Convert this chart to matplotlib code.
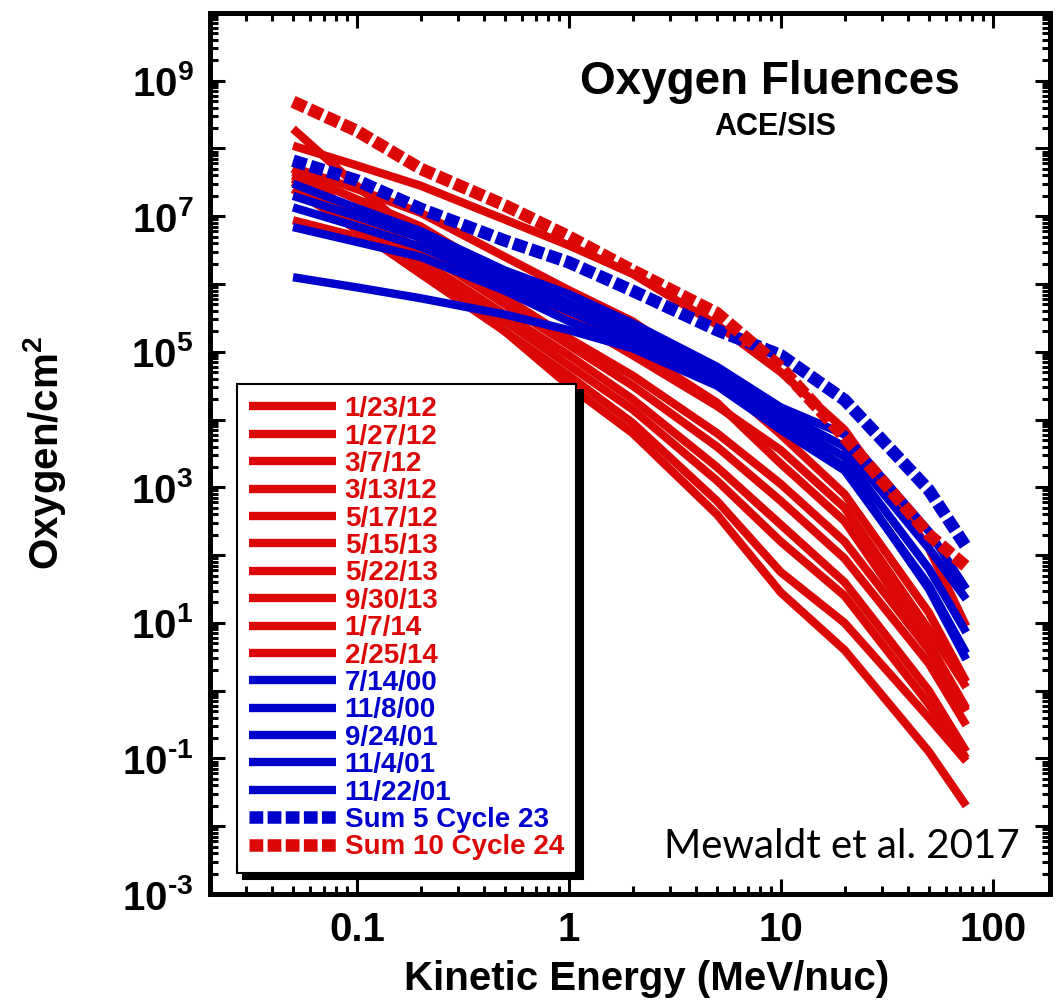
import numpy as np
import matplotlib
matplotlib.use("Agg")
import matplotlib.pyplot as plt
from matplotlib.ticker import LogLocator, FuncFormatter, NullFormatter

plt.rcParams['font.family'] = 'Liberation Sans'
plt.rcParams['font.weight'] = 'bold'
plt.rcParams['mathtext.fontset'] = 'custom'
plt.rcParams['mathtext.rm'] = 'Liberation Sans:bold'
plt.rcParams['mathtext.bf'] = 'Liberation Sans:bold'
plt.rcParams['mathtext.it'] = 'Liberation Sans:bold'
plt.rcParams['mathtext.default'] = 'rm'

energy = [0.05, 0.1, 0.2, 0.5, 1, 2, 5, 10, 20, 50, 75]

# log10 of oxygen fluence (per cm^2), cycle 24 events (red)
cycle24_labels = ["1/23/12", "1/27/12", "3/7/12", "3/13/12", "5/17/12",
                  "5/15/13", "5/22/13", "9/30/13", "1/7/14", "2/25/14"]
cycle24_log = [
    [8.04, 7.75, 7.45, 6.95, 6.57, 6.15, 5.40, 4.70, 3.85, 2.10, 0.95],
    [8.29, 7.45, 6.65, 5.80, 5.20, 4.65, 3.80, 3.05, 2.20, 0.60, -0.30],
    [7.72, 7.40, 7.05, 6.40, 5.91, 5.45, 4.60, 3.78, 2.90, 1.15, 0.13],
    [7.65, 7.25, 6.85, 6.10, 5.50, 4.95, 4.20, 3.55, 2.70, 0.90, 0.05],
    [7.60, 7.05, 6.50, 5.70, 5.10, 4.50, 3.60, 2.80, 1.95, 0.40, -0.51],
    [7.55, 6.95, 6.35, 5.55, 4.95, 4.30, 3.30, 2.45, 1.60, 0.00, -0.90],
    [7.50, 6.90, 6.25, 5.45, 4.80, 4.15, 3.10, 2.20, 1.40, -0.20, -1.00],
    [7.40, 6.80, 6.15, 5.30, 4.65, 3.95, 2.80, 1.75, 1.00, -0.40, -1.04],
    [7.70, 7.00, 6.30, 5.30, 4.50, 3.80, 2.60, 1.45, 0.60, -0.90, -1.70],
    [6.94, 6.70, 6.45, 5.95, 5.50, 5.05, 4.25, 3.35, 2.50, 0.70, -0.26],
]

# cycle 23 events (blue)
cycle23_labels = ["7/14/00", "11/8/00", "9/24/01", "11/4/01", "11/22/01"]
cycle23_log = [
    [7.48, 7.12, 6.78, 6.20, 5.85, 5.42, 4.78, 4.18, 3.78, 2.35, 1.50],
    [7.30, 7.00, 6.68, 6.10, 5.72, 5.30, 4.70, 4.10, 3.60, 2.10, 1.35],
    [7.13, 6.85, 6.55, 6.00, 5.60, 5.20, 4.62, 4.00, 3.45, 1.80, 0.86],
    [6.84, 6.62, 6.40, 5.90, 5.45, 5.10, 4.55, 3.90, 3.30, 1.50, 0.46],
    [6.10, 5.95, 5.79, 5.55, 5.32, 5.05, 4.50, 3.85, 3.25, 1.55, 0.55],
]

# sums
sum23_log = [7.82, 7.53, 7.11, 6.64, 6.32, 5.90, 5.32, 4.95, 4.29, 2.96, 2.12]
sum24_log = [8.69, 8.26, 7.70, 7.16, 6.70, 6.20, 5.57, 4.77, 3.74, 2.30, 1.83]

red = '#dc0808'
blue = '#0000cc'

fig = plt.figure(figsize=(10.63, 10.07), dpi=100)
ax = fig.add_axes([0.1976, 0.1122, 0.79, 0.875])

e = np.array(energy)
for lab, vals in zip(cycle24_labels, cycle24_log):
    ax.plot(e, 10 ** np.array(vals), color=red, lw=6, label=lab,
            solid_capstyle='butt', solid_joinstyle='round')
for lab, vals in zip(cycle23_labels, cycle23_log):
    ax.plot(e, 10 ** np.array(vals), color=blue, lw=6, label=lab,
            solid_capstyle='butt', solid_joinstyle='round')
ax.plot(e, 10 ** np.array(sum23_log), color=blue, lw=9, dashes=(1.1, 0.35),
        dash_capstyle='butt', label="Sum 5 Cycle 23")
ax.plot(e, 10 ** np.array(sum24_log), color=red, lw=9, dashes=(1.1, 0.35),
        dash_capstyle='butt', label="Sum 10 Cycle 24")

ax.set_xscale('log')
ax.set_yscale('log')
ax.set_xlim(0.0203, 186)
ax.set_ylim(1e-3, 1e10)

ax.yaxis.set_major_locator(LogLocator(base=10, numticks=30))
ax.yaxis.set_minor_locator(LogLocator(base=10, subs=np.arange(2, 10), numticks=100))


def yfmt(v, pos):
    p = int(round(np.log10(v)))
    if p % 2 != 0:
        exp = str(p).replace('-', '\u2010')
        return r'$10^{%s}$' % exp
    return ''


ax.yaxis.set_major_formatter(FuncFormatter(yfmt))
ax.yaxis.set_minor_formatter(NullFormatter())

ax.xaxis.set_major_locator(LogLocator(base=10, numticks=30))
ax.xaxis.set_minor_locator(LogLocator(base=10, subs=np.arange(2, 10), numticks=100))
ax.xaxis.set_major_formatter(FuncFormatter(lambda v, pos: '%g' % v))
ax.xaxis.set_minor_formatter(NullFormatter())

ax.tick_params(which='both', direction='in', top=True, right=True,
               labelsize=29, width=2.2)
ax.tick_params(which='major', length=11, pad=12)
ax.tick_params(which='minor', length=6)
for s in ax.spines.values():
    s.set_linewidth(3.6)

ax.set_xlabel("Kinetic Energy (MeV/nuc)", fontsize=29, fontweight='bold')
ax.set_ylabel(r"Oxygen/cm$^2$", fontsize=29, fontweight='bold')
ax.xaxis.set_label_coords(0.52, -0.075)
ax.yaxis.set_label_coords(-0.169, 0.5)

ax.text(0.667, 0.922, "Oxygen Fluences", transform=ax.transAxes,
        fontsize=33, fontweight='bold', ha='center', va='center')
ax.text(0.673, 0.871, "ACE/SIS", transform=ax.transAxes,
        fontsize=22, fontweight='bold', ha='center', va='center')
ax.text(0.752, 0.041, "Mewaldt et al. 2017", transform=ax.transAxes,
        fontsize=29, fontweight='normal', family='Lato',
        ha='center', va='baseline')

leg = ax.legend(loc='lower left', bbox_to_anchor=(0.032, 0.024),
                bbox_transform=ax.transAxes, borderaxespad=0,
                prop={'weight': 'bold', 'size': 20}, labelcolor='linecolor',
                handlelength=3.1, handletextpad=0.33, labelspacing=0.05,
                borderpad=0.45, fancybox=False, framealpha=1,
                edgecolor='black',
                shadow={'ox': 4.5, 'oy': -4.5, 'color': 'black', 'alpha': 1})
leg.get_frame().set_linewidth(1.5)

fig.savefig("out.png", dpi=100)
